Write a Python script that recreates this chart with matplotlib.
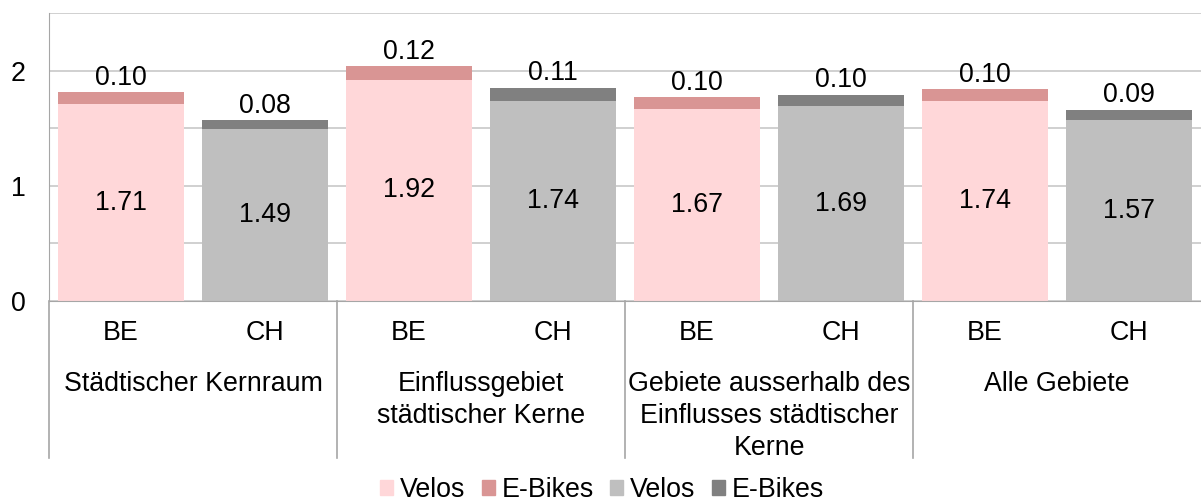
import numpy as np
import matplotlib
matplotlib.use("Agg")
import matplotlib.pyplot as plt
from matplotlib.patches import Rectangle
from matplotlib.transforms import blended_transform_factory

plt.rcParams["font.family"] = ["Liberation Sans", "DejaVu Sans"]

# Data
regions = ["Städtischer Kernraum", "Einflussgebiet\nstädtischer Kerne",
           "Gebiete ausserhalb des\nEinflusses städtischer\nKerne", "Alle Gebiete"]
countries = ["BE", "CH"]
be_velos = [1.71, 1.92, 1.67, 1.74]
be_ebikes = [0.10, 0.12, 0.10, 0.10]
ch_velos = [1.49, 1.74, 1.69, 1.57]
ch_ebikes = [0.08, 0.11, 0.10, 0.09]
legend_labels = ["Velos", "E-Bikes", "Velos", "E-Bikes"]

c_be_v, c_be_e = "#FFD7D9", "#D99594"
c_ch_v, c_ch_e = "#BFBFBF", "#808080"
fs = 19.3

fig = plt.figure(figsize=(12.01, 5.04), dpi=100)
ax = fig.add_axes([49 / 1201, 1 - 301 / 504, 1 - 49 / 1201, 288 / 504])

n = len(regions)
x_be = np.arange(n) * 2
x_ch = x_be + 1
w = 0.875

ax.bar(x_be, be_velos, w, color=c_be_v, zorder=2)
ax.bar(x_be, be_ebikes, w, bottom=be_velos, color=c_be_e, zorder=2)
ax.bar(x_ch, ch_velos, w, color=c_ch_v, zorder=2)
ax.bar(x_ch, ch_ebikes, w, bottom=ch_velos, color=c_ch_e, zorder=2)

for xs, v, e in [(x_be, be_velos, be_ebikes), (x_ch, ch_velos, ch_ebikes)]:
    for xi, vi, ei in zip(xs, v, e):
        ax.text(xi, vi / 2, f"{vi:.2f}", ha="center", va="center", fontsize=fs)
        ax.annotate(f"{ei:.2f}", (xi, vi + ei), xytext=(0, 1), textcoords="offset points",
                    ha="center", va="bottom", fontsize=fs)

ax.set_xlim(-0.5, 2 * n - 0.5)
ax.set_ylim(0, 2.5)
ax.set_yticks([0, 1, 2])
ax.set_yticks([0.5, 1.5, 2.5], minor=True)
ax.grid(axis="y", which="both", color="#C8C8C8", linewidth=1.2, zorder=0)
ax.tick_params(axis="y", which="both", length=0, pad=17, labelsize=fs)
ax.set_xticks([])
for s in ["top", "right"]:
    ax.spines[s].set_visible(False)
ax.spines["left"].set_color("#A6A6A6")
ax.spines["bottom"].set_color("#A6A6A6")

# category axis below
tr = blended_transform_factory(ax.transData, ax.transAxes)
for b in np.arange(n) * 2 - 0.5:
    ax.plot([b, b], [0, -0.545], transform=tr, color="#A6A6A6", lw=1.2, clip_on=False)
for i in range(n):
    ax.text(x_be[i], -0.111, countries[0], transform=tr, ha="center", va="center", fontsize=fs)
    ax.text(x_ch[i], -0.111, countries[1], transform=tr, ha="center", va="center", fontsize=fs)
    ax.text(x_be[i] + 0.5, -0.243, regions[i], transform=tr, ha="center", va="top",
            fontsize=fs, linespacing=1.3)

handles = [Rectangle((0, 0), 1, 1, color=c) for c in [c_be_v, c_be_e, c_ch_v, c_ch_e]]
fig.legend(handles, legend_labels, loc="center", bbox_to_anchor=(602 / 1201, 1 - 490 / 504),
           ncol=4, frameon=False, fontsize=fs, handlelength=0.5, handleheight=0.5,
           handletextpad=0.25, columnspacing=0.6, borderaxespad=0, borderpad=0)

fig.savefig("out.png", dpi=100)
